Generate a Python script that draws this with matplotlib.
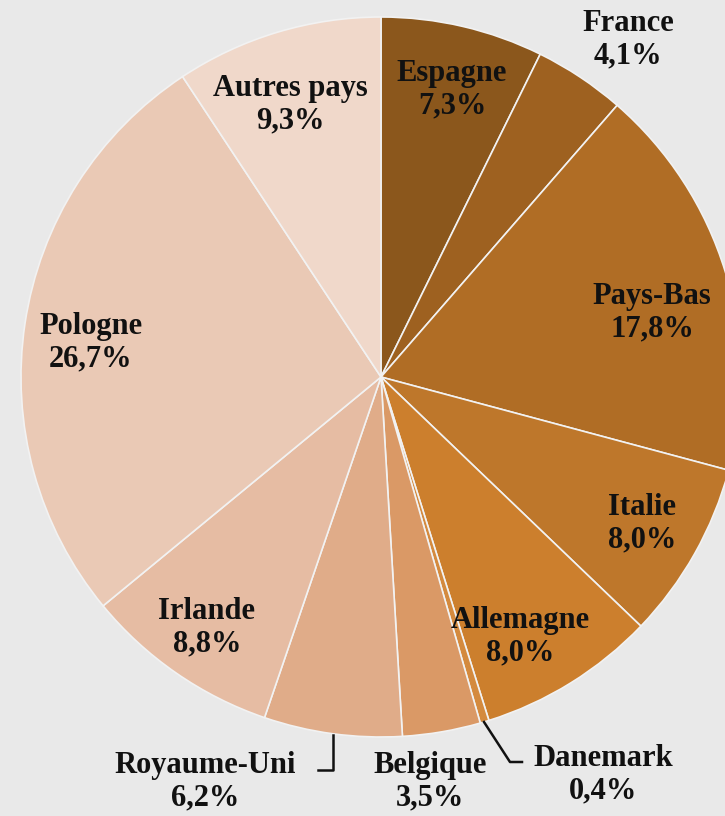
# Pie chart: share by country
import matplotlib.pyplot as plt

countries = ["Espagne", "France", "Pays-Bas", "Italie", "Allemagne", "Danemark",
             "Belgique", "Royaume-Uni", "Irlande", "Pologne", "Autres pays"]
shares = [7.3, 4.1, 17.8, 8.0, 8.0, 0.4, 3.5, 6.2, 8.8, 26.7, 9.3]
colors = ["#8b571c", "#9e6120", "#b06d25", "#be772b", "#cc7f2d", "#d48a3e",
          "#da9966", "#e0ac89", "#e6bca3", "#eac9b5", "#f0d8ca"]

# label centres in pixels (x from left, y from top)
label_pos = [(452, 90), (628, 40), (652, 313), (642, 524), (520, 637), (603, 775),
             (430, 782), (205, 782), (207, 628), (91, 343), (290, 105)]

W, H = 725, 816
fig = plt.figure(figsize=(W / 100, H / 100), dpi=100)
fig.patch.set_facecolor("#e9e9e9")
ax = fig.add_axes([0, 0, 1, 1])

cx, cy, r = 381, H - 377, 360
wedges, _ = ax.pie(shares, colors=colors, startangle=90, counterclock=False,
                   center=(cx, cy), radius=r, frame=True,
                   wedgeprops=dict(edgecolor="#f2f2f2", linewidth=1.2))
ax.set_xlim(0, W)
ax.set_ylim(0, H)
ax.set_aspect("equal")
ax.axis("off")

font = dict(family="Liberation Serif", fontweight="bold", fontsize=22,
            color="#111111", ha="center", va="center", linespacing=1.17)
for name, val, (x, y) in zip(countries, shares, label_pos):
    txt = name + "\n" + f"{val:.1f}".replace(".", ",") + "%"
    ax.text(x, H - y, txt, **font)

# leader lines (Danemark, Royaume-Uni)
ax.plot([484, 510, 522], [H - 722, H - 762, H - 762], color="#111111", lw=1.8)
ax.plot([333, 333, 318], [H - 735, H - 770, H - 770], color="#111111", lw=1.8)

plt.savefig("out.png", dpi=100, facecolor=fig.get_facecolor())
